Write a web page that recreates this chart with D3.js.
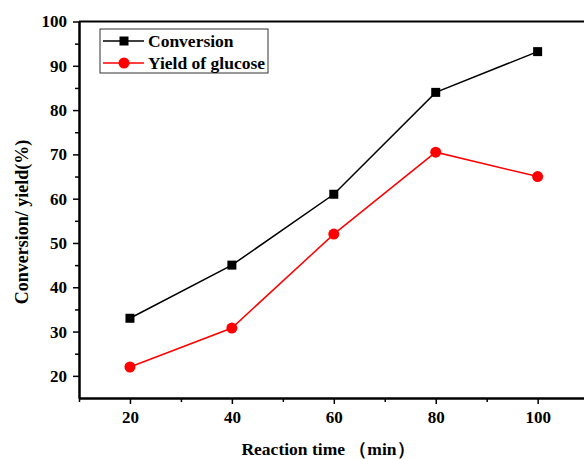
<!DOCTYPE html>
<html>
<head>
<meta charset="utf-8">
<script src="https://cdn.jsdelivr.net/npm/d3@7"></script>
<style>
  body { margin: 0; background: #fff; }
  text { font-family: "Liberation Serif", "Times New Roman", serif; font-weight: bold; fill: #000; }
</style>
</head>
<body>
<div id="chart"></div>
<script>
var times = [20, 40, 60, 80, 100];
var conversion = [33, 45, 61, 84, 93.2];
var glucoseYield = [22, 30.8, 52, 70.5, 65];
var xTicks = [20, 40, 60, 80, 100];
var yTicks = [20, 30, 40, 50, 60, 70, 80, 90, 100];

var width = 584, height = 459;
var x = d3.scaleLinear().domain([10, 110]).range([79, 588.6]);
var y = d3.scaleLinear().domain([15, 100]).range([398, 21.5]);

var svg = d3.select('#chart').append('svg')
    .attr('width', width)
    .attr('height', height);

// frame
svg.append('line').attr('x1', 79).attr('x2', 600).attr('y1', y(100)).attr('y2', y(100))
    .attr('stroke', '#000').attr('stroke-width', 2);

// x axis
svg.append('g')
    .attr('transform', 'translate(0,' + y(15) + ')')
    .call(d3.axisBottom(x).tickValues(xTicks).tickSize(6).tickPadding(7).tickSizeOuter(0));
svg.append('g')
    .attr('transform', 'translate(0,' + y(15) + ')')
    .call(d3.axisBottom(x).tickValues([10, 30, 50, 70, 90, 110]).tickSize(4).tickFormat('').tickSizeOuter(0));

// y axis
svg.append('g')
    .attr('transform', 'translate(' + x(10) + ',0)')
    .call(d3.axisLeft(y).tickValues(yTicks).tickSize(6).tickPadding(6).tickSizeOuter(0));
svg.append('g')
    .attr('transform', 'translate(' + x(10) + ',0)')
    .call(d3.axisLeft(y).tickValues([25, 35, 45, 55, 65, 75, 85, 95]).tickSize(4).tickFormat('').tickSizeOuter(0));

svg.selectAll('.domain').attr('stroke', '#000').attr('stroke-width', 2);
svg.selectAll('.tick line').attr('stroke', '#000').attr('stroke-width', 1.5);
svg.selectAll('.tick text').style('font-family', '"Liberation Serif", serif')
    .style('font-weight', 'bold').style('font-size', '17px');

// axis titles
svg.append('text')
    .attr('x', 328).attr('y', 455)
    .attr('text-anchor', 'middle')
    .style('font-size', '17.5px')
    .text('Reaction time （min）');
svg.append('text')
    .attr('transform', 'translate(28,222) rotate(-90)')
    .attr('text-anchor', 'middle')
    .style('font-size', '18px')
    .text('Conversion/ yield(%)');

var series = [
  {name: 'Conversion', values: conversion, color: '#000', marker: 'square'},
  {name: 'Yield of glucose', values: glucoseYield, color: '#ff0000', marker: 'circle'}
];

var line = d3.line()
    .x(function(d) { return x(d[0]); })
    .y(function(d) { return y(d[1]); });

series.forEach(function(s) {
  var pts = times.map(function(t, i) { return [t, s.values[i]]; });
  svg.append('path')
      .datum(pts)
      .attr('d', line)
      .attr('fill', 'none')
      .attr('stroke', s.color)
      .attr('stroke-width', 1.5);
  if (s.marker === 'square') {
    svg.selectAll(null).data(pts).enter().append('rect')
        .attr('x', function(d) { return x(d[0]) - 4.5; })
        .attr('y', function(d) { return y(d[1]) - 4.5; })
        .attr('width', 9).attr('height', 9)
        .attr('fill', s.color);
  } else {
    svg.selectAll(null).data(pts).enter().append('circle')
        .attr('cx', function(d) { return x(d[0]); })
        .attr('cy', function(d) { return y(d[1]); })
        .attr('r', 5.5)
        .attr('fill', s.color);
  }
});

// legend
var legend = svg.append('g');
legend.append('rect')
    .attr('x', 100).attr('y', 29).attr('width', 168).attr('height', 44)
    .attr('fill', '#fff').attr('stroke', '#333').attr('stroke-width', 1);
series.forEach(function(s, i) {
  var ly = 41 + i * 22;
  legend.append('line')
      .attr('x1', 103).attr('x2', 144).attr('y1', ly).attr('y2', ly)
      .attr('stroke', s.color).attr('stroke-width', 1.5);
  if (s.marker === 'square') {
    legend.append('rect').attr('x', 119.5).attr('y', ly - 4.5).attr('width', 9).attr('height', 9).attr('fill', s.color);
  } else {
    legend.append('circle').attr('cx', 124).attr('cy', ly).attr('r', 5.5).attr('fill', s.color);
  }
  legend.append('text')
      .attr('x', 148).attr('y', ly + 6)
      .style('font-size', '17.5px')
      .text(s.name);
});
</script>
</body>
</html>
